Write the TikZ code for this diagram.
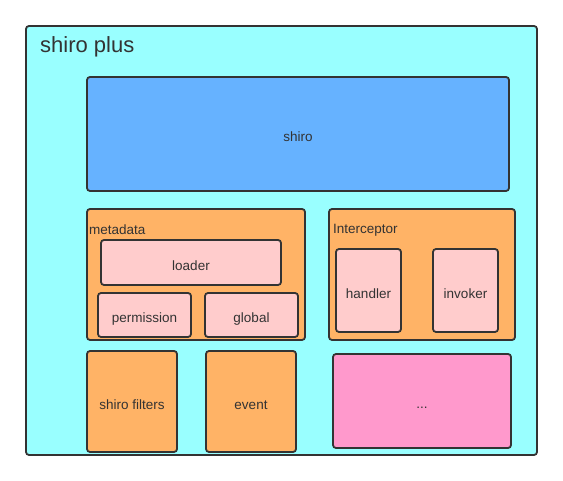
\documentclass[tikz,border=0pt]{standalone}
\usepackage{fontspec}
\setmainfont{Liberation Sans}
\usetikzlibrary{positioning}
\definecolor{cyanbg}{HTML}{99FFFF}
\definecolor{shiroblue}{HTML}{66B2FF}
\definecolor{modorange}{HTML}{FFB366}
\definecolor{partpink}{HTML}{FFCCCC}
\definecolor{morepink}{HTML}{FF99CC}
\definecolor{edge}{HTML}{333333}
\tikzstyle{block} = [rectangle, rounded corners=3pt, draw=edge, line width=1.8pt, text=edge, font=\fontsize{13.5}{15}\selectfont, inner sep=0pt, text height=16pt, text depth=0pt]
\tikzstyle{module} = [block, fill=modorange]
\tikzstyle{part} = [block, fill=partpink]
\tikzstyle{caption} = [text=edge, font=\fontsize{13.5}{15}\selectfont, anchor=west, inner sep=0pt]

\begin{document}
\begin{tikzpicture}[x=1pt, y=-1pt]
	\useasboundingbox (0,0) rectangle (563,481);

	\node (plus) [block, fill=cyanbg, minimum width=511pt, minimum height=429pt] at (281.5,240.5) {};
	\node (plustit) [caption, font=\fontsize{22}{24}\selectfont] at (40,47) {shiro plus};

	\node (shiro) [block, fill=shiroblue, minimum width=422pt, minimum height=114pt] at (298,134) {shiro};

	\node (meta) [module, minimum width=218pt, minimum height=131pt] at (196,274.5) {};
	\node (metatit) [caption] at (89,230) {metadata};
	\node (loader) [part, minimum width=180pt, minimum height=45pt] at (191,262.5) {loader};
	\node (perm) [part, minimum width=93pt, minimum height=44pt] at (144.5,315) {permission};
	\node (global) [part, minimum width=93pt, minimum height=44pt] at (251.5,315) {global};

	\node (inter) [module, minimum width=186pt, minimum height=131pt] at (422,274.5) {};
	\node (intertit) [caption] at (333,230) {Interceptor};
	\node (handler) [part, minimum width=65pt, minimum height=83pt] at (368.5,290.5) {handler};
	\node (invoker) [part, minimum width=65pt, minimum height=83pt] at (465.5,290.5) {invoker};

	\node (filters) [module, minimum width=90pt, minimum height=101pt] at (132,401.5) {shiro filters};
	\node (event) [module, minimum width=90pt, minimum height=101pt] at (251,401.5) {event};
	\node (more) [block, fill=morepink, minimum width=178pt, minimum height=94pt] at (422,401) {...};

\end{tikzpicture}
\end{document}
